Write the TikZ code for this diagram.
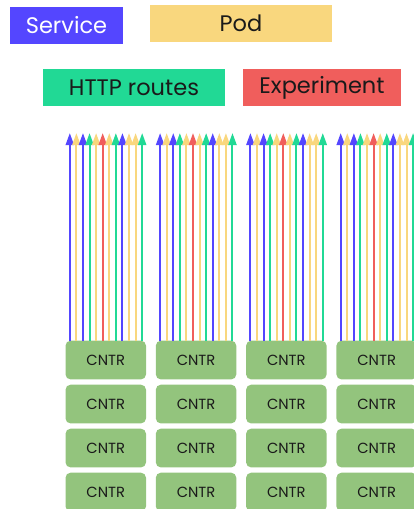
\documentclass[tikz,border=0pt]{standalone}
\usepackage{fontspec}
\setmainfont{Poppins}
\usetikzlibrary{arrows.meta}
\definecolor{svc}{HTML}{5446FF}
\definecolor{pod}{HTML}{F9D77E}
\definecolor{http}{HTML}{21D995}
\definecolor{exp}{HTML}{F05E5C}
\definecolor{cntr}{HTML}{93C47D}
\definecolor{ink}{HTML}{1A1A1A}
\tikzset{
  legend/.style={rectangle, inner sep=0pt, minimum height=37pt, text=ink, font=\fontsize{22.5}{26}\selectfont},
  cntrbox/.style={rectangle, rounded corners=5pt, fill=cntr, draw=none, minimum width=80.5pt, minimum height=38.7pt, inner sep=0pt, text=ink, font=\fontsize{14.7}{17}\selectfont},
  route/.style={line width=2pt},
}
\begin{document}
\begin{tikzpicture}[x=1pt,y=-1pt]
\useasboundingbox (0,0) rectangle (413,509);
\node[legend, fill=svc, text=white, minimum width=113pt] (service) at (66.5,25.5) {Service};
\node[legend, fill=pod, minimum width=182pt] (pod) at (241,23.5) {Pod};
\node[legend, fill=http, minimum width=182pt] (http) at (134,87.5) {HTTP routes};
\node[legend, fill=exp, minimum width=158pt] (exp) at (322,87.5) {Experiment};
\foreach \c in {0,...,3}{
  \foreach \r in {0,...,3}{
    \node[cntrbox] (c\c-\r) at ({65.5+90.3*\c+40.25},{340.7+44*\r+19.35}) {CNTR};
  }
  \foreach \col [count=\i from 0] in {svc,pod,svc,http,pod,exp,pod,http,svc,pod,pod,http}{
    \coordinate (t\c-\i) at ({65.5+90.3*\c+4.3+6.58*\i},133);
    \draw[route, draw=\col, -{Triangle[width=8pt,length=12pt,fill=\col]}] (t\c-\i |- c\c-0.north) -- (t\c-\i);
  }
}
\end{tikzpicture}
\end{document}
